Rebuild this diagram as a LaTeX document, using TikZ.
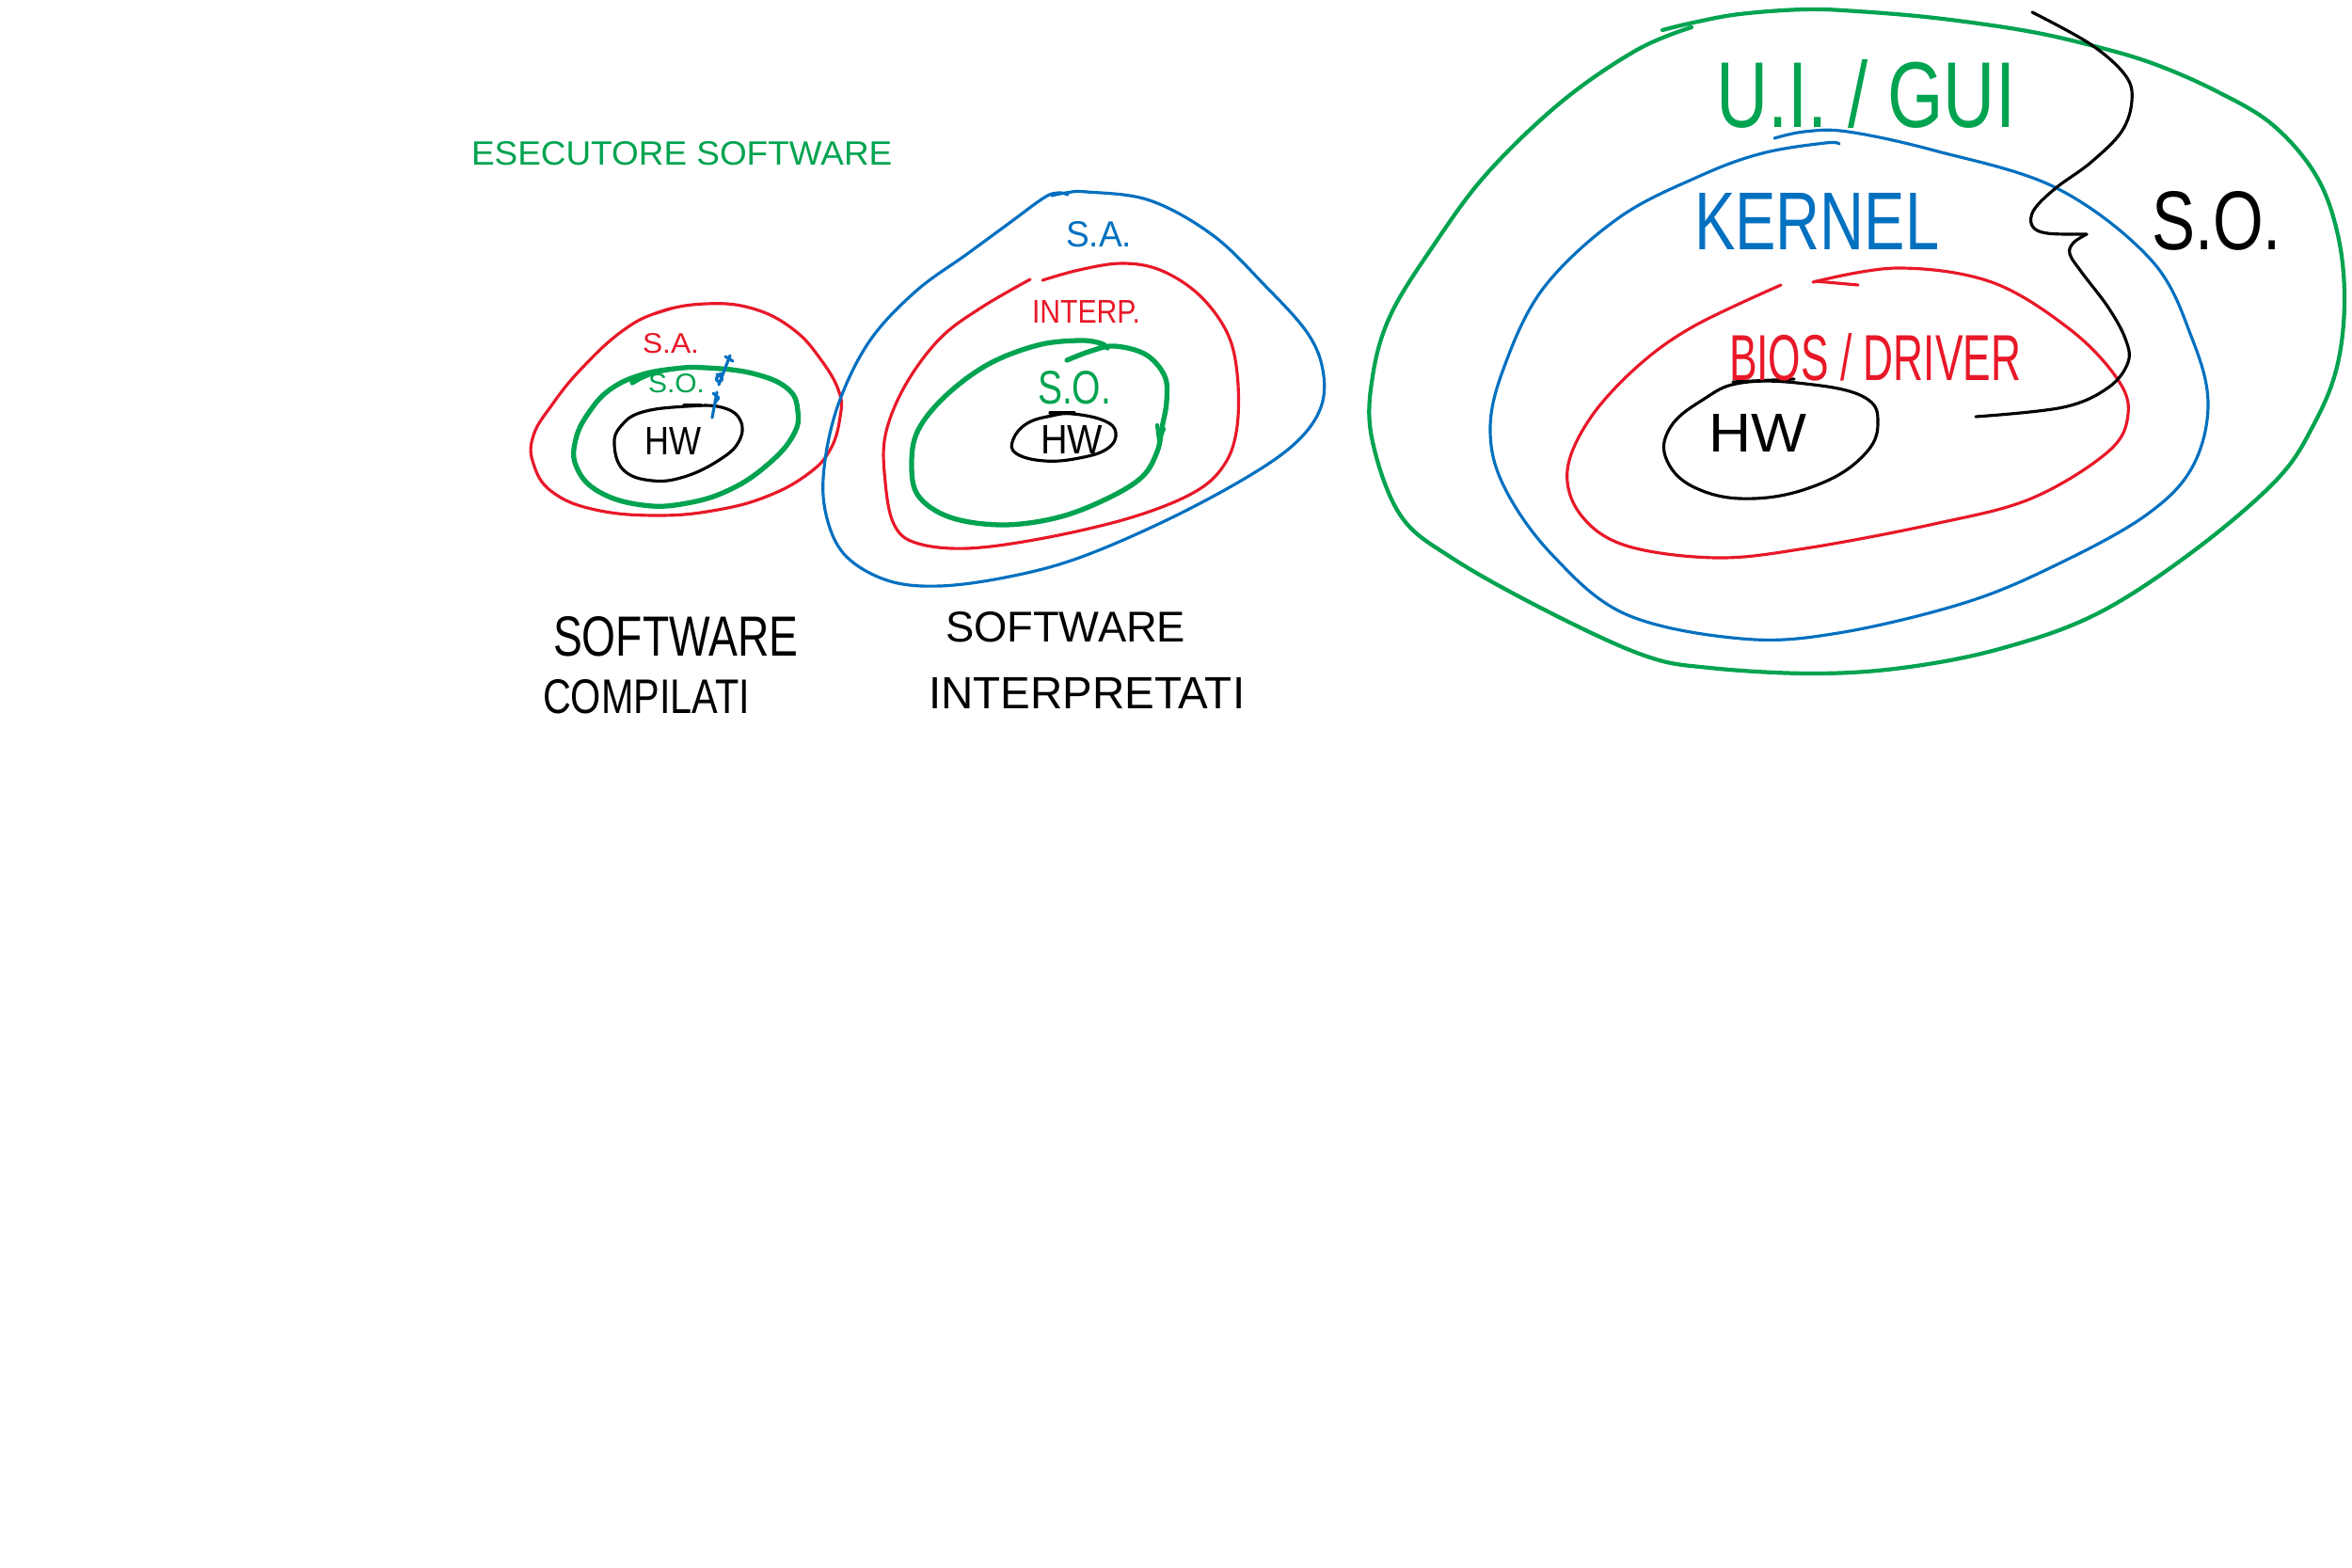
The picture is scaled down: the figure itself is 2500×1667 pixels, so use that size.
\documentclass[tikz,border=0pt]{standalone}
\usepackage{fontspec}
\setmainfont{Liberation Sans}
\usepackage{graphicx}
\definecolor{pgreen}{RGB}{0,163,80}
\definecolor{pred}{RGB}{232,24,40}
\definecolor{pblue}{RGB}{0,112,192}
\tikzset{
 stroke/.style={line width=0.9pt, line cap=round, line join=round},
 gstroke/.style={stroke, draw=pgreen, line width=1.5pt},
 gthin/.style={stroke, draw=pgreen, line width=1.2pt},
 rstroke/.style={stroke, draw=pred},
 bstroke/.style={stroke, draw=pblue},
 kstroke/.style={stroke, draw=black},
 lbl/.style={inner sep=0pt, outer sep=0pt, anchor=base west},
}
\newcommand{\fitbox}[3]{\resizebox{#1}{#2}{#3}}
\begin{document}
\begin{tikzpicture}[x=0.01cm,y=-0.01cm]
\fill[white] (0,0) rectangle (2500,1667);
\useasboundingbox (0,0) rectangle (2500,1667);

% title
\node[lbl, text=pgreen] (title) at (501,176) {\fitbox{4.47cm}{0.25cm}{ESECUTORE SOFTWARE}};

% ---------- diagram 1 ----------
\draw[rstroke] plot[smooth cycle, tension=0.7] coordinates {(750,323) (800,328) (843,350) (873,383) (892,417) (893,443) (883,477) (860,503) (817,527) (763,542) (700,548) (633,542) (587,523) (567,493) (567,463) (587,430) (617,393) (660,353) (700,332)};
\draw[rstroke] (697,333) -- (713,328);
\draw[gstroke] plot[smooth, tension=0.7] coordinates {(672,407) (690,398) (717,392) (750,391) (800,397) (837,413) (848,437) (843,463) (817,493) (777,520) (730,535) (683,537) (637,523) (613,497) (612,467) (627,437) (650,413) (683,398) (717,392)};
\draw[kstroke] plot[smooth cycle, tension=0.7] coordinates {(730,432) (767,433) (787,447) (785,470) (763,490) (727,507) (693,511) (663,500) (653,473) (660,453) (683,438)};
\draw[kstroke] (727,431) -- (745,431);
% blue marks
\draw[bstroke] (771,379) -- (779,384);
\draw[bstroke] (776,378) -- (764,409);
\draw[bstroke] (762,398) .. controls (768,400) and (770,404) .. (764,406) .. controls (760,403) .. (766,397);
\draw[bstroke] (762,417) -- (757,444);
\draw[bstroke] (758,418) -- (764,423) -- (760,428);
\node[lbl, text=pred] (sa1) at (683,376) {\fitbox{0.6cm}{0.21cm}{S.A.}};
\node[lbl, text=pgreen] (so1) at (689,418) {\fitbox{0.6cm}{0.2cm}{S.O.}};
\node[lbl] (hw1) at (685,483) {\fitbox{0.6cm}{0.29cm}{HW}};

% ---------- diagram 2 ----------
\draw[bstroke] plot[smooth, tension=0.6] coordinates {(1118,208) (1133,205) (1155,204) (1222,213) (1289,250) (1344,303) (1389,353) (1406,393) (1404,433) (1378,470) (1326,507) (1240,553) (1147,593) (1073,613) (999,623) (943,617) (898,590) (878,547) (876,497) (891,430) (924,363) (973,310) (1028,270) (1073,237) (1110,210) (1125,205) (1135,207)};
\draw[rstroke] plot[smooth, tension=0.6] coordinates {(1108,298) (1147,287) (1192,280) (1233,287) (1274,313) (1304,353) (1315,397) (1315,453) (1302,493) (1270,523) (1203,550) (1110,572) (1028,583) (973,577) (950,557) (941,513) (941,463) (962,410) (999,360) (1043,327) (1095,297)};
\draw[gstroke] plot[smooth, tension=0.6] coordinates {(1134,383) (1160,373) (1185,368) (1218,377) (1238,400) (1240,427) (1235,455) (1230,480) (1214,507) (1177,530) (1125,550) (1066,558) (1010,550) (976,527) (969,493) (976,457) (1006,420) (1051,387) (1103,367) (1147,362) (1170,365) (1177,370)};
\draw[gthin] (1230,452) -- (1232,468) -- (1237,456);
\draw[kstroke] plot[smooth cycle, tension=0.7] coordinates {(1140,440) (1173,447) (1186,460) (1177,477) (1147,487) (1110,490) (1080,482) (1077,467) (1092,450) (1118,442)};
\draw[kstroke] (1116,439) -- (1142,439);
\node[lbl, text=pblue] (sa2) at (1133,263) {\fitbox{0.7cm}{0.27cm}{S.A.}};
\node[lbl, text=pred] (interp) at (1097,344) {\fitbox{1.15cm}{0.24cm}{INTERP.}};
\node[lbl, text=pgreen] (so2) at (1103,430) {\fitbox{0.78cm}{0.35cm}{S.O.}};
\node[lbl] (hw2) at (1106,482) {\fitbox{0.66cm}{0.3cm}{HW}};

% bottom labels
\node[lbl] (sw1) at (588,697) {\fitbox{2.6cm}{0.42cm}{SOFTWARE}};
\node[lbl] (comp) at (577,758) {\fitbox{2.2cm}{0.36cm}{COMPILATI}};
\node[lbl] (sw2) at (1005,682) {\fitbox{2.55cm}{0.32cm}{SOFTWARE}};
\node[lbl] (interpr) at (987,753) {\fitbox{3.36cm}{0.33cm}{INTERPRETATI}};

% ---------- diagram 3 ----------
\draw[gthin] plot[smooth, tension=0.6] coordinates {(1767,32) (1800,24) (1849,15) (1918,10) (1974,12) (2056,19) (2149,32) (2218,47) (2287,67) (2356,97) (2416,133) (2462,187) (2485,250) (2492,320) (2484,390) (2460,450) (2420,510) (2330,587) (2228,653) (2125,690) (2022,710) (1926,716) (1817,710) (1748,697) (1645,650) (1543,593) (1488,547) (1458,465) (1459,400) (1478,335) (1523,262) (1580,185) (1660,108) (1740,53) (1798,29)};
\draw[bstroke] plot[smooth, tension=0.6] coordinates {(1886,147) (1918,140) (1964,140) (2056,160) (2186,200) (2287,277) (2330,360) (2347,430) (2330,497) (2282,547) (2193,597) (2091,640) (1954,673) (1851,679) (1728,653) (1650,590) (1600,520) (1584,460) (1597,395) (1640,307) (1720,232) (1807,187) (1873,163) (1940,152) (1955,153)};
\draw[rstroke] plot[smooth, tension=0.6] coordinates {(1927,300) (2017,285) (2117,300) (2200,350) (2250,402) (2262,440) (2241,480) (2159,530) (2056,557) (1919,583) (1824,593) (1728,580) (1680,547) (1666,500) (1690,445) (1740,390) (1800,347) (1893,303)};
\draw[rstroke] (1930,299) -- (1975,303);
\draw[kstroke] plot[smooth cycle, tension=0.7] coordinates {(1851,407) (1919,408) (1981,422) (1996,450) (1981,484) (1933,515) (1865,530) (1805,520) (1772,490) (1775,455) (1810,425)};
\draw[kstroke] (1842,406) -- (1907,403);
% brace
\coordinate (bt) at (2160,13);
\coordinate (bm) at (2218,249);
\coordinate (bb) at (2100,443);
\draw[kstroke] plot[smooth, tension=0.6] coordinates {(bt) (2222,47) (2259,80) (2266,107) (2255,140) (2222,173) (2185,200) (2162,223) (2160,240) (2176,248) (bm)};
\draw[kstroke] plot[smooth, tension=0.6] coordinates {(bm) (2204,258) (2200,270) (2213,290) (2241,327) (2259,360) (2262,385) (2241,412) (2193,433) (bb)};
\node[lbl, text=pgreen] (gui) at (1824,136) {\fitbox{3.18cm}{0.72cm}{U.I. / GUI}};
\node[lbl, text=pblue] (kernel) at (1801,266) {\fitbox{2.6cm}{0.6cm}{KERNEL}};
\node[lbl, text=pred] (bios) at (1838,405) {\fitbox{3.1cm}{0.5cm}{BIOS / DRIVER}};
\node[lbl] (hw3) at (1816,480) {\fitbox{1.04cm}{0.4cm}{HW}};
\node[lbl] (so3) at (2287,266) {\fitbox{1.38cm}{0.62cm}{S.O.}};
\end{tikzpicture}
\end{document}
